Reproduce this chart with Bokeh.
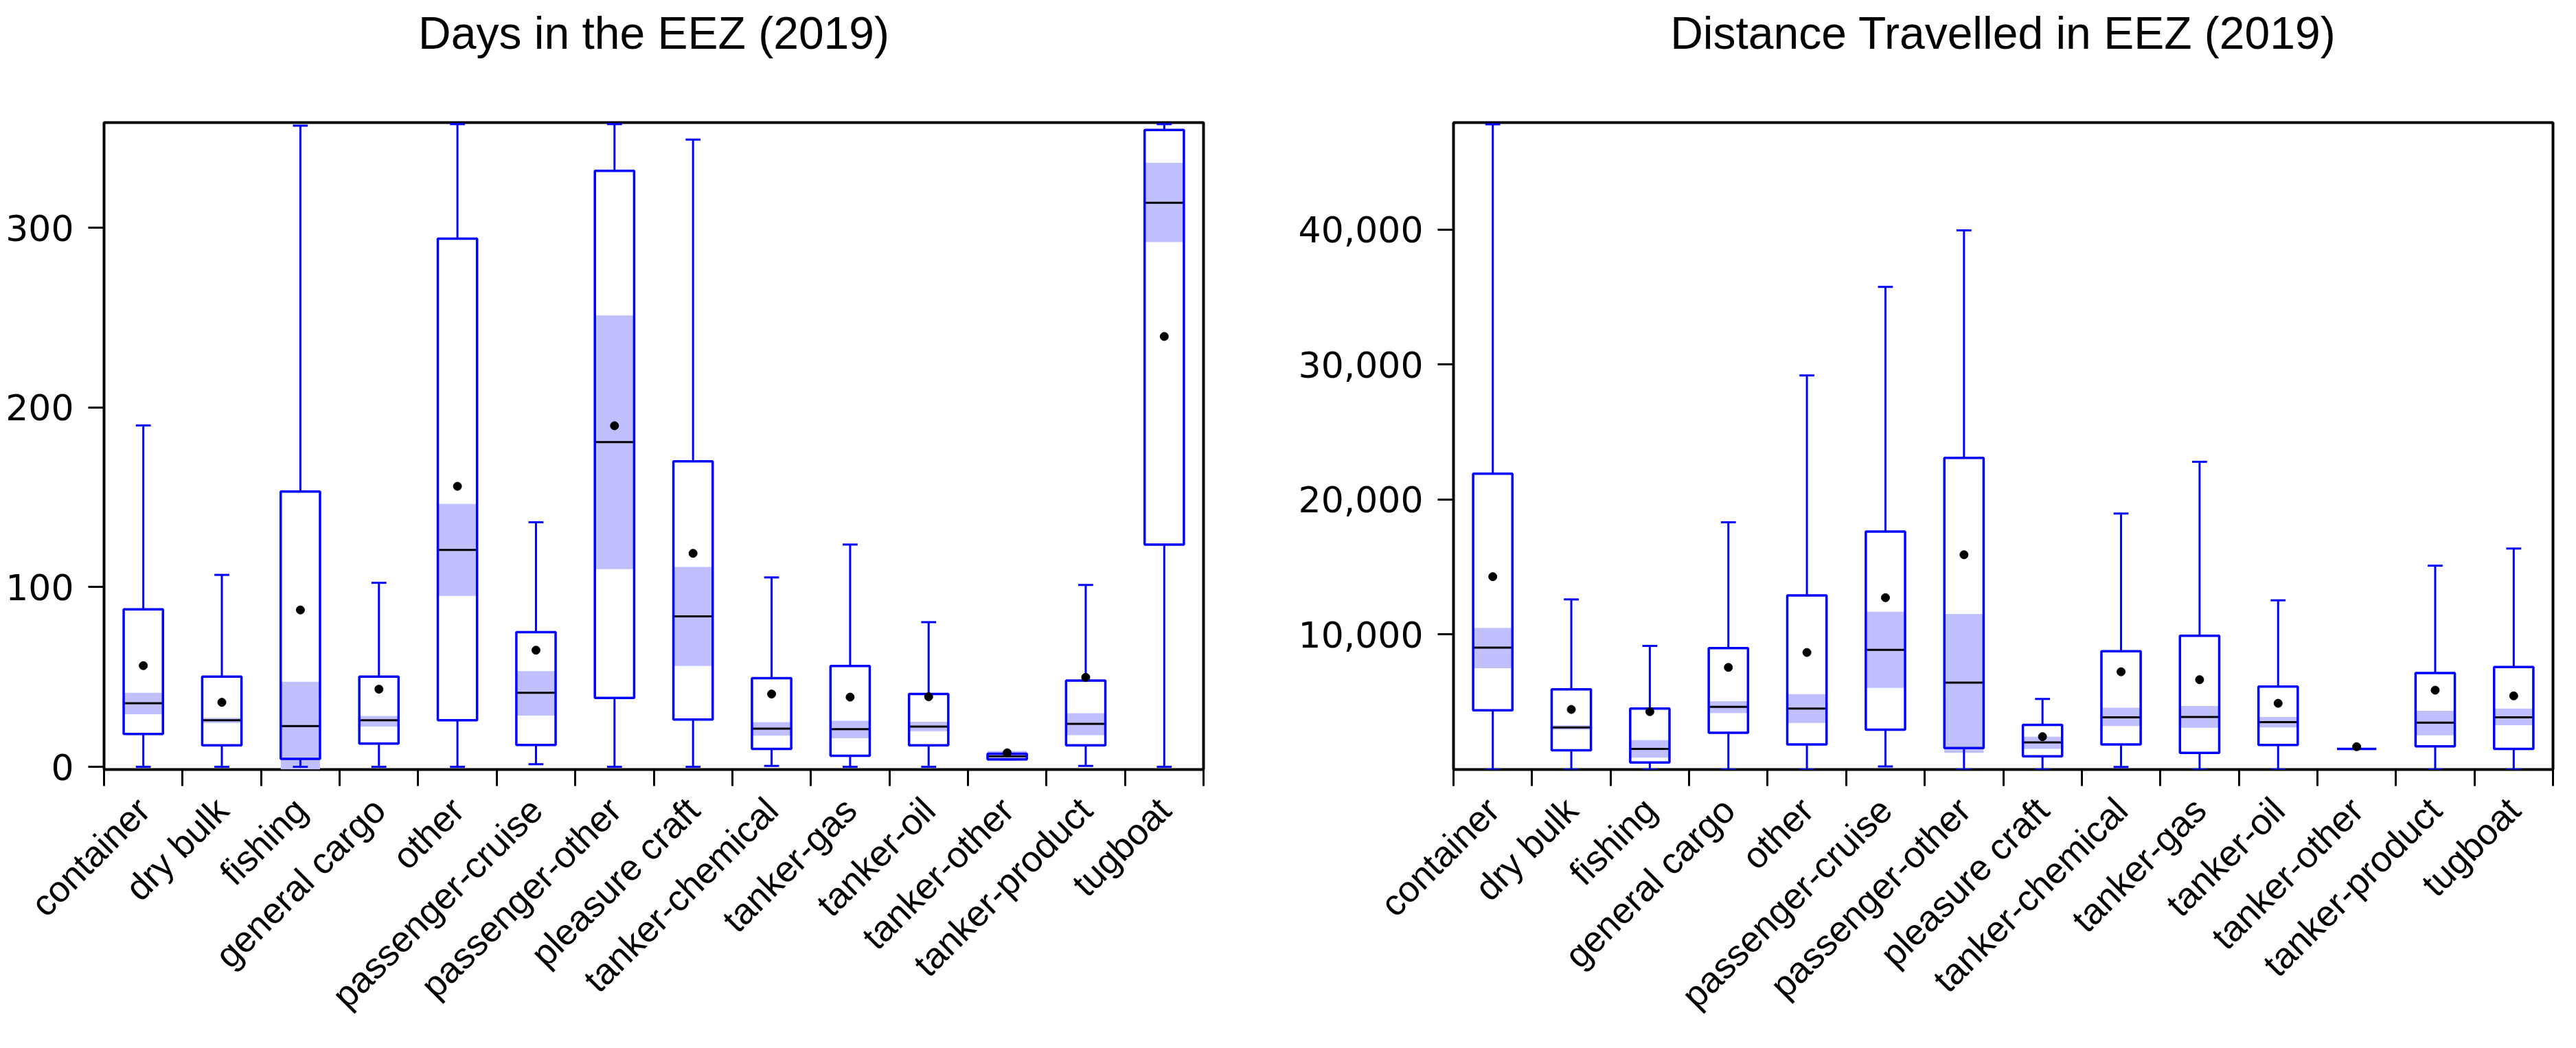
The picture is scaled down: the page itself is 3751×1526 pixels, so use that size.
from bokeh.plotting import figure
from bokeh.models import (Range1d, FixedTicker, NumeralTickFormatter, BasicTickFormatter,
                          ColumnDataSource, Label)
from bokeh.layouts import row, column
from bokeh.embed import file_html
from bokeh.resources import INLINE
import math

categories = ["container", "dry bulk", "fishing", "general cargo", "other",
              "passenger-cruise", "passenger-other", "pleasure craft",
              "tanker-chemical", "tanker-gas", "tanker-oil", "tanker-other",
              "tanker-product", "tugboat"]

# Days in the EEZ (2019)
days_low = [0, 0, 0, 0, 0, 1.5, 0, 0, 0.5, 0, 0, 4.1, 0.5, 0]
days_q1 = [18.3, 12.0, 4.4, 12.9, 25.9, 12.2, 38.3, 26.3, 10.0, 6.1, 12.0, 4.1, 12.0, 123.7]
days_median = [35.4, 25.9, 22.7, 25.9, 120.7, 41.2, 180.7, 83.7, 21.2, 21.0, 22.4, 5.9, 23.9, 313.9]
days_q3 = [87.6, 50.2, 153.2, 50.2, 293.9, 74.9, 331.7, 170.0, 49.3, 56.1, 40.5, 7.3, 48.0, 354.4]
days_high = [190.0, 106.8, 356.8, 102.4, 357.6, 136.1, 357.6, 349.0, 105.4, 123.7, 80.5, 7.3, 101.2, 357.6]
days_mean = [56.3, 35.9, 87.3, 43.2, 156.1, 64.9, 189.8, 118.8, 40.5, 38.8, 39.0, 7.8, 49.8, 239.5]
days_ci_low = [29.3, 24.4, -3.0, 22.4, 95.1, 28.5, 110.0, 56.1, 17.3, 15.9, 19.8, 3.4, 17.6, 292.0]
days_ci_high = [41.2, 27.3, 47.3, 28.3, 146.3, 53.2, 251.2, 111.2, 24.9, 25.6, 25.1, 8.8, 29.8, 336.1]
days_ticks = [0, 100, 200, 300]

# Distance Travelled in EEZ (2019)
dist_low = [0, 0, 0, 0, 0, 227, 0, 0, 195, 0, 0, 1526, 0, 0]
dist_q1 = [4383, 1429, 520, 2727, 1851, 2955, 1591, 974, 1851, 1234, 1818, 1526, 1721, 1526]
dist_median = [9027, 3117, 1526, 4643, 4513, 8864, 6429, 2013, 3864, 3896, 3507, 1526, 3474, 3864]
dist_q3 = [21917, 5942, 4513, 8994, 12891, 17631, 23086, 3312, 8767, 9903, 6137, 1526, 7143, 7598]
dist_high = [47795, 12598, 9157, 18313, 29190, 35750, 39938, 5228, 18962, 22794, 12533, 1526, 15099, 16365]
dist_mean = [14287, 4448, 4286, 7565, 8669, 12728, 15910, 2435, 7241, 6656, 4903, 1688, 5877, 5455]
dist_ci_low = [7501, 2955, 877, 4189, 3442, 6039, 1234, 1526, 3215, 3085, 3117, 1526, 2533, 3280]
dist_ci_high = [10488, 3280, 2175, 5065, 5585, 11689, 11527, 2435, 4578, 4708, 3896, 1526, 4351, 4513]
dist_ticks = [10000, 20000, 30000, 40000]

BLUE = "#0000FF"
SHADE = "#C0C0FF"
BOX_W = 0.5
CAP_W = 0.19
FRAME_W = 1601
FRAME_H = 942
TOP = 178          # frame top, measured from top of the whole figure column
TITLE_H = 110      # height of the strip that carries the title
BASELINE = 47      # title baseline from the top of the strip
TOTAL_H = 1510


def make_title(text, width):
    t = figure(width=width, height=TITLE_H, output_backend="svg", toolbar_location=None,
               x_range=Range1d(0, 1), y_range=Range1d(0, 1),
               x_axis_location=None, y_axis_location=None,
               min_border=0, min_border_left=0, min_border_right=0,
               min_border_top=0, min_border_bottom=0)
    t.grid.visible = False
    t.outline_line_color = None
    t.background_fill_color = "white"
    t.border_fill_color = "white"
    # screen x is measured from the frame, which the column aligns with the plot below
    t.add_layout(Label(x=FRAME_W / 2, y=TITLE_H - BASELINE,
                       x_units="screen", y_units="screen", text=text,
                       text_align="center", text_baseline="alphabetic",
                       text_font="Liberation Sans", text_font_size="66px",
                       text_color="black"))
    return t


def make_panel(low, q1, med, q3, high, mean, cil, cih, y_start, y_end,
               yticks, formatter, width, border_left):
    n = len(categories)
    x = [i + 0.5 for i in range(n)]
    src = ColumnDataSource(dict(
        x=x, low=low, q1=q1, med=med, q3=q3, high=high, mean=mean, cil=cil, cih=cih,
        bl=[v - BOX_W / 2 for v in x], br=[v + BOX_W / 2 for v in x],
        cl=[v - CAP_W / 2 for v in x], cr=[v + CAP_W / 2 for v in x],
    ))
    height = TOTAL_H - TITLE_H
    top = TOP - TITLE_H
    p = figure(width=width, height=height, output_backend="svg", toolbar_location=None,
               x_range=Range1d(0, n), y_range=Range1d(y_start, y_end),
               min_border_left=border_left, min_border_right=width - border_left - FRAME_W,
               min_border_top=top, min_border_bottom=height - top - FRAME_H)

    p.grid.visible = False
    p.outline_line_color = "black"
    p.outline_line_width = 4
    p.outline_line_alpha = 1.0
    p.background_fill_color = "white"
    p.border_fill_color = "white"

    # boxes: white fill, shaded median interval, median, whiskers, outline, mean
    p.vbar(x="x", width=BOX_W, bottom="q1", top="q3", source=src,
           fill_color="white", line_color=None)
    p.vbar(x="x", width=BOX_W, bottom="cil", top="cih", source=src,
           fill_color=SHADE, line_color=None)
    p.segment(x0="bl", x1="br", y0="med", y1="med", source=src,
              line_color="black", line_width=3)
    p.segment(x0="x", x1="x", y0="q3", y1="high", source=src,
              line_color=BLUE, line_width=3)
    p.segment(x0="x", x1="x", y0="q1", y1="low", source=src,
              line_color=BLUE, line_width=3)
    p.segment(x0="cl", x1="cr", y0="high", y1="high", source=src,
              line_color=BLUE, line_width=3)
    p.segment(x0="cl", x1="cr", y0="low", y1="low", source=src,
              line_color=BLUE, line_width=3)
    p.vbar(x="x", width=BOX_W, bottom="q1", top="q3", source=src,
           fill_color=None, line_color=BLUE, line_width=3.5)
    p.scatter(x="x", y="mean", source=src, size=12, color="black")

    # x axis: labels at centres, tick marks at category boundaries
    xa = p.xaxis[0]
    xa.ticker = FixedTicker(ticks=x, minor_ticks=list(range(n + 1)))
    xa.major_label_overrides = {v: c for v, c in zip(x, categories)}
    xa.major_label_orientation = math.pi / 4
    xa.major_tick_line_color = None
    xa.major_tick_out = 24
    xa.major_tick_in = 0
    xa.minor_tick_line_color = "black"
    xa.minor_tick_line_width = 3
    xa.minor_tick_out = 24
    xa.minor_tick_in = 0
    xa.axis_line_color = None
    xa.major_label_standoff = 26
    xa.major_label_text_font = "Liberation Sans"
    xa.major_label_text_font_size = "53px"
    xa.major_label_text_color = "black"

    ya = p.yaxis[0]
    ya.ticker = FixedTicker(ticks=yticks)
    ya.formatter = formatter
    ya.axis_line_color = None
    ya.major_tick_line_color = "black"
    ya.major_tick_line_width = 3
    ya.major_tick_out = 23
    ya.major_tick_in = 0
    ya.minor_tick_line_color = None
    ya.major_label_standoff = 21
    ya.major_label_text_font = "DejaVu Sans"
    ya.major_label_text_font_size = "52px"
    ya.major_label_text_color = "black"
    return p


W1, L1 = 1860, 151
W2, L2 = 1875, 256

t1 = make_title("Days in the EEZ (2019)", W1)
t2 = make_title("Distance Travelled in EEZ (2019)", W2)
p1 = make_panel(days_low, days_q1, days_median, days_q3, days_high, days_mean,
                days_ci_low, days_ci_high, -1.5, 358.5, days_ticks,
                BasicTickFormatter(), W1, L1)
p2 = make_panel(dist_low, dist_q1, dist_median, dist_q3, dist_high, dist_mean,
                dist_ci_low, dist_ci_high, 0, 47920, dist_ticks,
                NumeralTickFormatter(format="0,0"), W2, L2)

layout = row(column(t1, p1, spacing=0), column(t2, p2, spacing=0), spacing=0)
open("out.html", "w").write(file_html(layout, INLINE))
